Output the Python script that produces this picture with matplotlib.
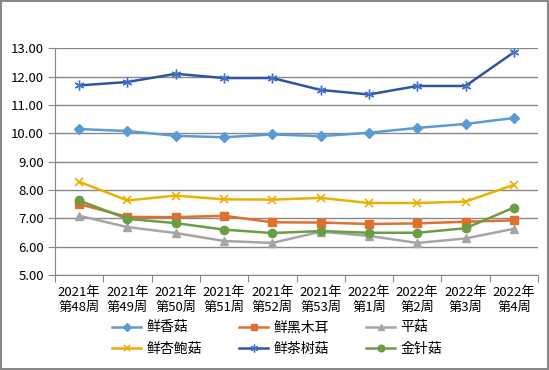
import numpy as np
import matplotlib.pyplot as plt
from matplotlib.ticker import FormatStrFormatter

plt.rcParams['font.family'] = ['Noto Sans CJK SC', 'DejaVu Sans']

# Data
weeks = ['2021年\n第48周', '2021年\n第49周', '2021年\n第50周', '2021年\n第51周',
         '2021年\n第52周', '2021年\n第53周', '2022年\n第1周', '2022年\n第2周',
         '2022年\n第3周', '2022年\n第4周']
xianggu = [10.15, 10.08, 9.91, 9.86, 9.96, 9.90, 10.02, 10.19, 10.33, 10.54]
heimuer = [7.50, 7.05, 7.04, 7.09, 6.86, 6.85, 6.80, 6.82, 6.88, 6.93]
pinggu = [7.09, 6.69, 6.48, 6.20, 6.13, 6.53, 6.38, 6.13, 6.29, 6.63]
xingbaogu = [8.29, 7.63, 7.80, 7.67, 7.66, 7.72, 7.54, 7.54, 7.59, 8.18]
chashugu = [11.69, 11.81, 12.10, 11.95, 11.95, 11.53, 11.37, 11.67, 11.67, 12.86]
jinzhengu = [7.63, 6.98, 6.83, 6.60, 6.48, 6.55, 6.49, 6.49, 6.65, 7.38]

fig = plt.figure(figsize=(5.49, 3.70), dpi=100)
fig.patch.set_edgecolor('#888888')
fig.patch.set_linewidth(1.5)
ax = fig.add_axes([0.1002, 0.2568, 0.8798, 0.6127])

x = np.arange(len(weeks)) + 0.5
lw = 1.8
l1, = ax.plot(x, xianggu, color='#5B9BD5', lw=lw, marker='D', ms=5, label='鲜香菇')
l2, = ax.plot(x, heimuer, color='#E07030', lw=lw, marker='s', ms=6, label='鲜黑木耳')
l3, = ax.plot(x, pinggu, color='#A5A5A5', lw=lw, marker='^', ms=6, label='平菇')
l4, = ax.plot(x, xingbaogu, color='#EBB000', lw=lw, marker='x', ms=6, mew=1.2, label='鲜杏鲍菇')
l5, = ax.plot(x, chashugu, color='#2F55A0', lw=lw, marker=(6, 2, 0), ms=7, mew=1.0,
              mec='#4472C4', label='鲜茶树菇')
l6, = ax.plot(x, jinzhengu, color='#6A9E44', lw=lw, marker='o', ms=6, label='金针菇')

ax.set_xlim(0, len(weeks))
ax.set_ylim(5, 13)
ax.set_yticks(np.arange(5, 13.01, 1))
ax.yaxis.set_major_formatter(FormatStrFormatter('%.2f'))
ax.set_xticks(np.arange(0, len(weeks) + 1))
ax.set_xticklabels([])
ax.set_xticks(x, minor=True)
ax.set_xticklabels(weeks, minor=True, fontsize=9.5, linespacing=1.15)
ax.tick_params(axis='x', which='minor', length=0, pad=8)
ax.tick_params(axis='x', which='major', length=5, color='#888888', direction='out')
ax.tick_params(axis='y', length=5, color='#888888', labelsize=9.5, pad=3)

ax.grid(axis='y', color='#888888', lw=1)
ax.set_axisbelow(True)
for s in ['top', 'right']:
    ax.spines[s].set_visible(False)
ax.spines['left'].set_color('#888888')
ax.spines['bottom'].set_color('#888888')

handles = [l1, l4, l2, l5, l3, l6]
fig.legend(handles=handles, labels=[h.get_label() for h in handles], ncol=3,
           loc='upper left', bbox_to_anchor=(0.204, 0.134), frameon=False,
           fontsize=10, handlelength=2.1, columnspacing=2.7, labelspacing=0.55,
           handletextpad=0.35, borderaxespad=0, borderpad=0, markerscale=0.8)

fig.savefig('out.png', dpi=100)
